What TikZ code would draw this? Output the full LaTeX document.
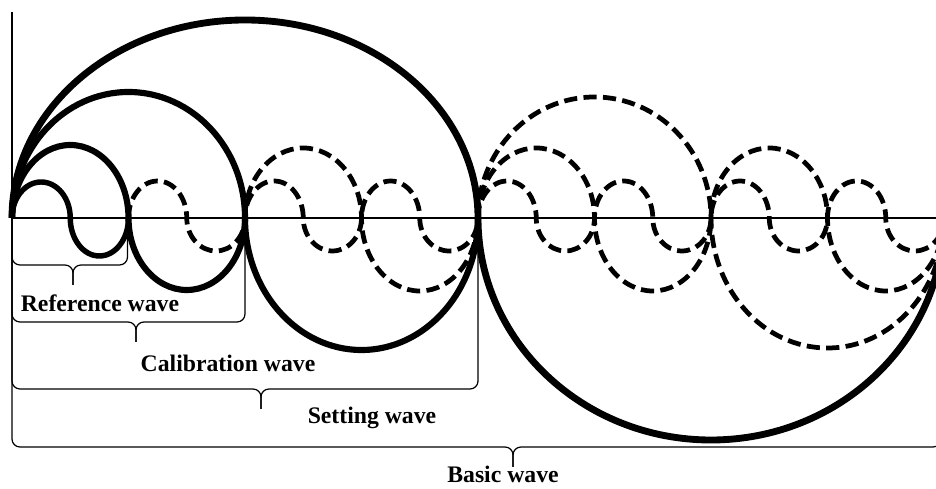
\documentclass[tikz,border=0pt]{standalone}
\usepackage{fontspec}
\setmainfont{Liberation Serif}
\usetikzlibrary{calc}

\newcommand{\wavebrace}[3]{%
 \draw[brace] (O) |- (#3,#2) -- (#3,{#2-20});
 \draw[brace] (#1,0) |- (#3,#2) -- (#3,{#2-20});}

\begin{document}
\begin{tikzpicture}[x=0.02cm,y=0.02cm,
 wave/.style={line width=3.5pt},
 ghost/.style={line width=2.7pt,dash pattern=on 7.5pt off 3.6pt},
 brace/.style={line width=0.7pt,rounded corners=4.5pt},
 lbl/.style={anchor=base,font=\fontsize{13.5}{16}\selectfont\bfseries}]
\clip (0,-271) rectangle (936,218);
\coordinate (O) at (12,0);
\draw[line width=0.6pt] (12,206) -- (O) -- (936,0);
% solid waves
\draw[wave,line width=3.9pt] (O) arc[start angle=180,end angle=0,x radius=233,y radius=198]
 arc[start angle=180,end angle=360,x radius=233,y radius=222];
\draw[wave] (O) arc[start angle=180,end angle=0,x radius=116.5,y radius=126]
 arc[start angle=180,end angle=360,x radius=116.5,y radius=132];
\draw[wave] (O) arc[start angle=180,end angle=0,x radius=58.25,y radius=73]
 arc[start angle=180,end angle=360,x radius=58.25,y radius=72];
\draw[wave,line width=3.1pt] (O) arc[start angle=180,end angle=0,x radius=29.125,y radius=36]
 arc[start angle=180,end angle=360,x radius=29.125,y radius=38];
% dashed continuations
\draw[ghost] (478,0) arc[start angle=180,end angle=0,x radius=116.5,y radius=121]
 arc[start angle=180,end angle=360,x radius=116.5,y radius=130];
\draw[ghost] (245,0) \foreach \i in {1,2,3} {arc[start angle=180,end angle=0,x radius=58.25,y radius=70]
 arc[start angle=180,end angle=360,x radius=58.25,y radius=73]};
\draw[ghost] (128.5,0) \foreach \i in {1,...,7} {arc[start angle=180,end angle=0,x radius=29.125,y radius=37]
 arc[start angle=180,end angle=360,x radius=29.125,y radius=33]};
% braces
\wavebrace{127.5}{-47}{73}
\wavebrace{245}{-104}{136}
\wavebrace{478}{-171}{261}
\wavebrace{941}{-229}{513}
\node[lbl] (ref) at (100,-94) {Reference wave};
\node[lbl] (cal) at (228,-154) {Calibration wave};
\node[lbl] (set) at (372,-206) {Setting wave};
\node[lbl] (bas) at (503,-265) {Basic wave};
\end{tikzpicture}
\end{document}
